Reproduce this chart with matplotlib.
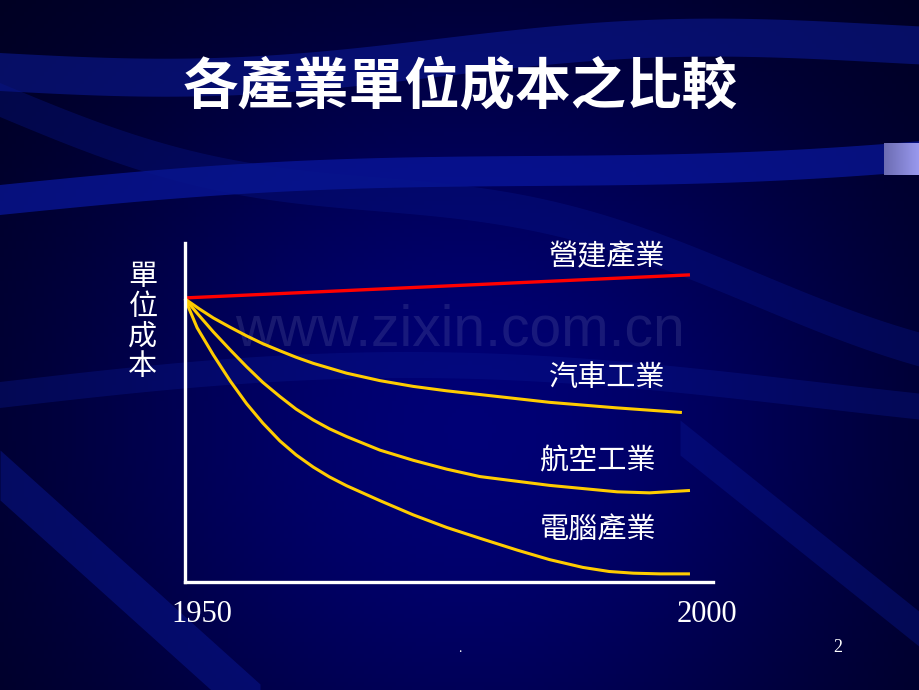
import numpy as np
import matplotlib
matplotlib.use('Agg')
import matplotlib.pyplot as plt

plt.rcParams['font.family'] = ['Noto Sans CJK TC', 'DejaVu Sans']

# data, year vs. relative unit cost
title = '各產業單位成本之比較'
y_label = '單位成本'
series_names = ['營建產業', '汽車工業', '航空工業', '電腦產業']

build_years = [1950, 2000]
build_cost = [83.8, 90.6]

auto_years = [1950, 1951.4, 1952.8, 1954.5, 1956.1, 1957.7, 1959.4, 1961.0, 1962.7, 1966.0,
              1969.3, 1972.6, 1975.9, 1979.2, 1986.1, 1992.6, 1999.2]
auto_cost = [83.5, 80.6, 77.9, 75.1, 72.6, 70.3, 68.2, 66.3, 64.5, 61.6,
             59.4, 57.7, 56.4, 55.3, 53.0, 51.4, 50.0]

air_years = [1950, 1951.4, 1952.8, 1954.5, 1956.1, 1957.7, 1959.4, 1961.0, 1962.7, 1964.3,
             1966.0, 1969.3, 1972.6, 1975.9, 1979.2, 1986.1, 1992.8, 1996.0, 2000]
air_cost = [83.5, 78.6, 73.8, 68.4, 63.5, 58.9, 54.7, 51.0, 47.8, 45.2,
            42.9, 38.9, 35.9, 33.3, 31.1, 28.5, 26.6, 26.3, 27.0]

pc_years = [1950, 1951.2, 1952.8, 1954.5, 1956.1, 1957.7, 1959.4, 1961.0, 1962.7, 1964.3,
            1966.0, 1969.3, 1972.6, 1975.9, 1979.2, 1982.9, 1986.1, 1989.4, 1992.0,
            1994.4, 1997.0, 2000]
pc_cost = [83.5, 75.0, 67.0, 59.2, 52.6, 46.9, 41.6, 37.5, 33.9, 31.0,
           28.4, 24.0, 19.8, 16.1, 12.9, 9.4, 6.6, 4.3, 3.1,
           2.6, 2.4, 2.4]

x_labels = ['1950', '2000']

W, H = 920, 690
fig = plt.figure(figsize=(W / 100, H / 100), dpi=100)

# ---- slide background ----
bg = fig.add_axes([0, 0, 1, 1])
bg.set_xlim(0, W)
bg.set_ylim(H, 0)
bg.axis('off')

gx, gy = np.meshgrid(np.linspace(0, W, 230), np.linspace(0, H, 172))
glow = np.exp(-((gx - 470) / 430) ** 2 - ((gy - 430) / 420) ** 2)
img = np.zeros(gx.shape + (3,))
img[..., 2] = 0.10 + 0.36 * glow
bg.imshow(img, extent=[0, W, H, 0], aspect='auto', zorder=0)

xs = np.linspace(0, W, 300)
bands = [
    (72 - 30 * xs / W + 12 * np.sin(xs / 140), 38, '#0b1a9a', 0.55),
    (200 - 50 * xs / W - 8 * np.sin(xs / 170), 30, '#0a1aa8', 0.65),
    (395 - 30 * np.sin(xs / 260), 26, '#0a1890', 0.35),
    (250 + 0.25 * (xs - 600) + 20 * np.sin(xs / 120), 34, '#08168c', 0.35),
]
for center, width, color, alpha in bands:
    bg.fill_between(xs, center - width / 2, center + width / 2,
                    color=color, alpha=alpha, lw=0, zorder=1)

xd = np.linspace(0, 260, 100)
bg.fill_between(xd, 450 + 0.9 * xd, 500 + 0.9 * xd, color='#0a1a9a', alpha=0.45, lw=0, zorder=1)
xr = np.linspace(680, W, 100)
bg.fill_between(xr, 420 + 0.8 * (xr - 680), 455 + 0.8 * (xr - 680), color='#0a1a9a', alpha=0.35, lw=0, zorder=1)

cap = np.linspace(0.25, 0.85, 40)[None, :]
cap_img = np.dstack([0.35 + cap * 0.3, 0.35 + cap * 0.3, 0.6 + cap * 0.4])
bg.imshow(np.clip(cap_img, 0, 1), extent=[884, W, 175, 143], aspect='auto', zorder=2)

bg.text(460, 330, 'www.zixin.com.cn', fontsize=41, family='Liberation Sans',
        color='#8a90c0', alpha=0.18, ha='center', va='center', zorder=2)

bg.text(460, 88, title, fontsize=40, fontweight='bold', color='white',
        ha='center', va='center', zorder=3)
bg.text(143, 322, '\n'.join(y_label), fontsize=21, color='white', ha='center',
        va='center', linespacing=1.0, zorder=3)
bg.text(838, 647, '2', fontsize=13, family='Liberation Serif', color='white',
        ha='center', va='center', zorder=3)
bg.text(460, 648, '.', fontsize=10, family='Liberation Serif', color='white',
        ha='center', va='center', zorder=3)

# ---- chart ----
ax = fig.add_axes([185 / W, (H - 582) / H, (713 - 185) / W, (582 - 243) / H])
ax.patch.set_alpha(0)
ax.set_xlim(1950, 2002.28)
ax.set_ylim(0, 100)
for s in ['top', 'right']:
    ax.spines[s].set_visible(False)
for s in ['left', 'bottom']:
    ax.spines[s].set_color('white')
    ax.spines[s].set_linewidth(2.4)
ax.set_xticks([])
ax.set_yticks([])

yellow = '#FFCC00'
ax.plot(build_years, build_cost, color='#FF0000', lw=2.4, solid_capstyle='butt', clip_on=False)
for yrs, cost in [(auto_years, auto_cost), (air_years, air_cost), (pc_years, pc_cost)]:
    ax.plot(yrs, cost, color=yellow, lw=2.2, solid_joinstyle='round',
            solid_capstyle='butt', clip_on=False)

label_pos = [(607, 257), (607, 378), (598, 462), (598, 531)]
for name, (px, py) in zip(series_names, label_pos):
    bg.text(px, py, name, fontsize=21, color='white', ha='center', va='center', zorder=3)

for lab, px in zip(x_labels, [202, 707]):
    bg.text(px, 614, lab, fontsize=22, family='Liberation Serif', color='white',
            ha='center', va='center', zorder=3)

fig.savefig('out.png', dpi=100)
